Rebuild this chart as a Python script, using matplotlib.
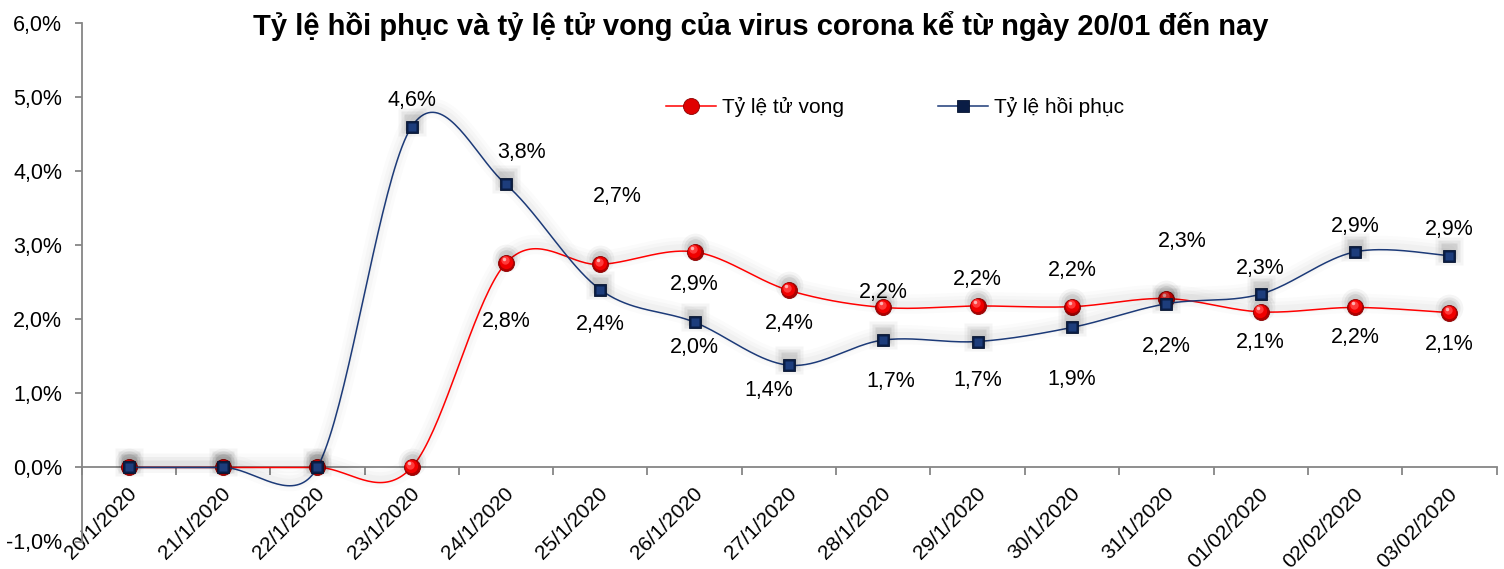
import numpy as np
import matplotlib
matplotlib.use("Agg")
import matplotlib.pyplot as plt
from matplotlib import patheffects as pe
from matplotlib.lines import Line2D
from matplotlib.transforms import ScaledTranslation

plt.rcParams['font.family'] = ['Liberation Sans', 'DejaVu Sans']

# ---------------- data ----------------
dates = ["20/1/2020", "21/1/2020", "22/1/2020", "23/1/2020", "24/1/2020",
         "25/1/2020", "26/1/2020", "27/1/2020", "28/1/2020", "29/1/2020",
         "30/1/2020", "31/1/2020", "01/02/2020", "02/02/2020", "03/02/2020"]
death_rate = [0.0, 0.0, 0.0, 0.0, 2.76, 2.74, 2.91, 2.39, 2.16, 2.18,
              2.17, 2.28, 2.10, 2.16, 2.09]
recovery_rate = [0.0, 0.0, 0.0, 4.60, 3.82, 2.40, 1.96, 1.38, 1.72, 1.70,
                 1.89, 2.21, 2.34, 2.91, 2.86]
y_ticks = [-1, 0, 1, 2, 3, 4, 5, 6]
title = "Tỷ lệ hồi phục và tỷ lệ tử vong của virus corona kể từ ngày 20/01 đến nay"
series_names = ["Tỷ lệ tử vong", "Tỷ lệ hồi phục"]

# label offsets in pixels (style only)
death_off = [None, None, None, None, (0, -59), (17, 68), (0, -33), (0, -33),
             (0, 15), (0, 26), (0, 36), (16, 57), (0, -31), (0, -30), (0, -32)]
rec_off = [None, None, None, (0, 26), (16, 32), (0, -35), (0, -25), (-20, -25),
           (7, -41), (0, -39), (0, -52), (0, -43), (0, 26), (0, 25), (0, 26)]

RED = "#ff0000"
NAVY = "#1c3a78"
GREY = "#868686"
FS = 15.5

W, H = 1504, 569
fig = plt.figure(figsize=(W / 100, H / 100), dpi=100)
ax = fig.add_axes([81.5 / W, (H - 541.5) / H, (1496.5 - 81.5) / W, (541.5 - 23) / H])
x = np.arange(len(dates))
ax.set_xlim(-0.5, len(dates) - 0.5)
ax.set_ylim(-1, 6)

# spines
for s in ["top", "right"]:
    ax.spines[s].set_visible(False)
ax.spines["left"].set_color(GREY)
ax.spines["left"].set_linewidth(1.3)
ax.spines["bottom"].set_color(GREY)
ax.spines["bottom"].set_linewidth(1.3)
ax.spines["bottom"].set_position(("data", 0))

ax.set_yticks(y_ticks)
ax.set_yticklabels([f"{v:.1f}".replace(".", ",") + "%" for v in y_ticks])
ax.tick_params(axis="y", direction="out", length=5, width=1.3, color=GREY,
               labelsize=FS, pad=9)
ax.set_xticks(x)
ax.set_xticks(np.arange(-0.5, len(dates), 1.0), minor=True)
ax.tick_params(axis="x", which="major", length=0, pad=12, labelsize=15)
ax.tick_params(axis="x", which="minor", direction="out", length=6, width=1.3, color=GREY)
ax.set_xticklabels(dates, rotation=45, ha="right", va="top", rotation_mode="anchor")
shift = ScaledTranslation(-2 / 100, 0, fig.dpi_scale_trans)
for lab in ax.get_xticklabels():
    lab.set_transform(lab.get_transform() + shift)


def excel_smooth(xs, ys, n=40):
    T = ax.transData
    P = T.transform(np.column_stack([xs, ys]))
    N = len(P)
    out = []
    t = np.linspace(0, 1, n)[:, None]
    for i in range(N - 1):
        p0 = P[i - 1] if i > 0 else P[i]
        p1 = P[i]
        p2 = P[i + 1]
        p3 = P[i + 2] if i + 2 < N else P[i + 1]
        d12 = np.linalg.norm(p2 - p1)
        d02 = np.linalg.norm(p2 - p0)
        d13 = np.linalg.norm(p3 - p1)
        f1 = 1 / 6
        f2 = 1 / 6
        if d02 > 0 and d02 / 6 > d12 / 2:
            f1 = d12 / (2 * d02)
        if d13 > 0 and d13 / 6 > d12 / 2:
            f2 = d12 / (2 * d13)
        c1 = p1 + (p2 - p0) * f1
        c2 = p2 - (p3 - p1) * f2
        seg = ((1 - t) ** 3) * p1 + 3 * ((1 - t) ** 2) * t * c1 + 3 * (1 - t) * t ** 2 * c2 + t ** 3 * p2
        out.append(seg if i == 0 else seg[1:])
    pts = np.vstack(out)
    return T.inverted().transform(pts)


glow = [pe.SimpleLineShadow(offset=(0, 3), shadow_color="k", alpha=0.015, linewidth=14),
        pe.SimpleLineShadow(offset=(0, 3), shadow_color="k", alpha=0.02, linewidth=9),
        pe.SimpleLineShadow(offset=(0, 3), shadow_color="k", alpha=0.025, linewidth=4),
        pe.Normal()]


def offset_tr(dx, dy):
    return ax.transData + ScaledTranslation(dx / 100, dy / 100, fig.dpi_scale_trans)


def draw_series(vals, color, kind, z):
    sm = excel_smooth(x, vals)
    ax.plot(sm[:, 0], sm[:, 1], color=color, lw=1.1, zorder=z, path_effects=glow,
            solid_capstyle="round")
    # marker shadows (soft glow above)
    m = "o" if kind == "circle" else "s"
    for ms, a in [(20, 0.04), (16, 0.06), (12, 0.08)]:
        ax.plot(x, vals, ls="none", marker=m, ms=ms, mfc="k", mec="none", alpha=a,
                transform=offset_tr(0, 5), zorder=z + 0.1)
    if kind == "circle":
        ax.plot(x, vals, ls="none", marker="o", ms=11.5, mfc="#b00000", mec="#8a0000",
                mew=0.6, zorder=z + 0.2)
        ax.plot(x, vals, ls="none", marker="o", ms=9.5, mfc="#f00000", mec="none",
                transform=offset_tr(-0.5, 1), zorder=z + 0.3)
        ax.plot(x, vals, ls="none", marker="o", ms=6, mfc="#ff3a3a", mec="none",
                transform=offset_tr(-1.5, 2.5), zorder=z + 0.4)
        ax.plot(x, vals, ls="none", marker="o", ms=2.5, mfc="#ffb0b0", mec="none",
                transform=offset_tr(-2.5, 4), zorder=z + 0.5)
    else:
        ax.plot(x, vals, ls="none", marker="s", ms=8.5, mfc="#0a1d45", mec="#061430",
                mew=0.6, zorder=z + 0.2)
        ax.plot(x, vals, ls="none", marker="s", ms=5.5, mfc="#1d3d7c", mec="none",
                zorder=z + 0.3)


draw_series(death_rate, RED, "circle", 3)
draw_series(recovery_rate, NAVY, "square", 4)


def fmt(v):
    return f"{v:.1f}".replace(".", ",") + "%"


for vals, offs in [(death_rate, death_off), (recovery_rate, rec_off)]:
    for i, (v, o) in enumerate(zip(vals, offs)):
        if o is None:
            continue
        ax.annotate(fmt(v), (x[i], v), xytext=o, textcoords="offset pixels",
                    ha="center", va="center", fontsize=FS, zorder=10)

# legend
h1 = Line2D([], [], color=RED, lw=1.1, marker="o", ms=11.5, mfc="#e00000", mec="#8a0000", mew=0.6)
h2 = Line2D([], [], color=NAVY, lw=1.1, marker="s", ms=8.5, mfc="#0a1d45", mec="#061430", mew=0.6)
lx, ly = 665.7, 107
leg = ax.legend([h1, h2], series_names, ncol=2, frameon=False, fontsize=15,
                loc="center left", bbox_to_anchor=(lx / W, 1 - ly / H),
                bbox_transform=fig.transFigure, borderpad=0, borderaxespad=0,
                handlelength=2.4, handletextpad=0.3, columnspacing=4.5)

fig.text(0.506, 1 - 26 / H, title, ha="center", va="center", fontsize=21,
         fontweight="bold")

fig.savefig("out.png", dpi=100)
